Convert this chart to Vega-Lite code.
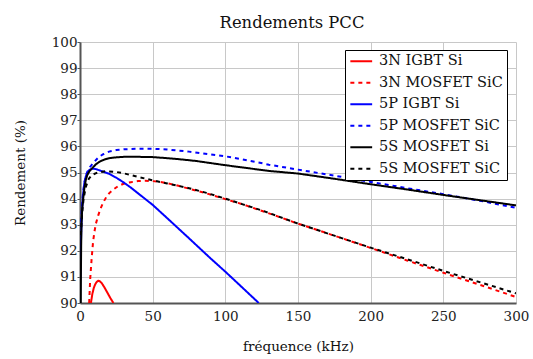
{
  "$schema": "https://vega.github.io/schema/vega-lite/v6.json",
  "width": 436,
  "height": 261,
  "autosize": {"type": "none"},
  "padding": {"left": 80, "top": 42, "right": 17, "bottom": 56},
  "background": "white",
  "title": {"text": "Rendements PCC", "font": "DejaVu Serif", "fontSize": 16.4, "fontWeight": "normal", "color": "#111", "offset": 4, "dx": -6},
  "config": {"view": {"stroke": null}, "font": "DejaVu Serif"},
  "datasets": {
    "curves": [
      {"series": "3N IGBT Si", "f": 7.5, "v": 90.0},
      {"series": "3N IGBT Si", "f": 8.5, "v": 90.35},
      {"series": "3N IGBT Si", "f": 9.5, "v": 90.58},
      {"series": "3N IGBT Si", "f": 10.5, "v": 90.72},
      {"series": "3N IGBT Si", "f": 11.5, "v": 90.81},
      {"series": "3N IGBT Si", "f": 12.5, "v": 90.85},
      {"series": "3N IGBT Si", "f": 13.5, "v": 90.84},
      {"series": "3N IGBT Si", "f": 15, "v": 90.76},
      {"series": "3N IGBT Si", "f": 17, "v": 90.58},
      {"series": "3N IGBT Si", "f": 19, "v": 90.38},
      {"series": "3N IGBT Si", "f": 21, "v": 90.18},
      {"series": "3N IGBT Si", "f": 23, "v": 90.0},

      {"series": "3N MOSFET SiC", "f": 6.3, "v": 90.0},
      {"series": "3N MOSFET SiC", "f": 7, "v": 90.9},
      {"series": "3N MOSFET SiC", "f": 8, "v": 91.7},
      {"series": "3N MOSFET SiC", "f": 9, "v": 92.35},
      {"series": "3N MOSFET SiC", "f": 10, "v": 92.75},
      {"series": "3N MOSFET SiC", "f": 11, "v": 93.05},
      {"series": "3N MOSFET SiC", "f": 12.5, "v": 93.35},
      {"series": "3N MOSFET SiC", "f": 14, "v": 93.6},
      {"series": "3N MOSFET SiC", "f": 16, "v": 93.85},
      {"series": "3N MOSFET SiC", "f": 18, "v": 94.05},
      {"series": "3N MOSFET SiC", "f": 20, "v": 94.2},
      {"series": "3N MOSFET SiC", "f": 23, "v": 94.35},
      {"series": "3N MOSFET SiC", "f": 26, "v": 94.47},
      {"series": "3N MOSFET SiC", "f": 30, "v": 94.57},
      {"series": "3N MOSFET SiC", "f": 35, "v": 94.63},
      {"series": "3N MOSFET SiC", "f": 40, "v": 94.67},
      {"series": "3N MOSFET SiC", "f": 45, "v": 94.68},
      {"series": "3N MOSFET SiC", "f": 50, "v": 94.67},
      {"series": "3N MOSFET SiC", "f": 55, "v": 94.64},
      {"series": "3N MOSFET SiC", "f": 65, "v": 94.53},
      {"series": "3N MOSFET SiC", "f": 75, "v": 94.38},
      {"series": "3N MOSFET SiC", "f": 87, "v": 94.2},
      {"series": "3N MOSFET SiC", "f": 100, "v": 93.98},
      {"series": "3N MOSFET SiC", "f": 112, "v": 93.78},
      {"series": "3N MOSFET SiC", "f": 124, "v": 93.55},
      {"series": "3N MOSFET SiC", "f": 137, "v": 93.3},
      {"series": "3N MOSFET SiC", "f": 150, "v": 93.04},
      {"series": "3N MOSFET SiC", "f": 175, "v": 92.58},
      {"series": "3N MOSFET SiC", "f": 200, "v": 92.11},
      {"series": "3N MOSFET SiC", "f": 225, "v": 91.63},
      {"series": "3N MOSFET SiC", "f": 250, "v": 91.16},
      {"series": "3N MOSFET SiC", "f": 275, "v": 90.7},
      {"series": "3N MOSFET SiC", "f": 300, "v": 90.23},

      {"series": "5P IGBT Si", "f": 0.1, "v": 90.9},
      {"series": "5P IGBT Si", "f": 0.5, "v": 92.0},
      {"series": "5P IGBT Si", "f": 1, "v": 93.0},
      {"series": "5P IGBT Si", "f": 1.5, "v": 93.65},
      {"series": "5P IGBT Si", "f": 2, "v": 94.1},
      {"series": "5P IGBT Si", "f": 3, "v": 94.6},
      {"series": "5P IGBT Si", "f": 4, "v": 94.85},
      {"series": "5P IGBT Si", "f": 5, "v": 95.0},
      {"series": "5P IGBT Si", "f": 6.5, "v": 95.1},
      {"series": "5P IGBT Si", "f": 8.5, "v": 95.15},
      {"series": "5P IGBT Si", "f": 11, "v": 95.13},
      {"series": "5P IGBT Si", "f": 13, "v": 95.09},
      {"series": "5P IGBT Si", "f": 15, "v": 95.05},
      {"series": "5P IGBT Si", "f": 20, "v": 94.95},
      {"series": "5P IGBT Si", "f": 25, "v": 94.8},
      {"series": "5P IGBT Si", "f": 30, "v": 94.62},
      {"series": "5P IGBT Si", "f": 35, "v": 94.42},
      {"series": "5P IGBT Si", "f": 40, "v": 94.2},
      {"series": "5P IGBT Si", "f": 50, "v": 93.76},
      {"series": "5P IGBT Si", "f": 60, "v": 93.25},
      {"series": "5P IGBT Si", "f": 75, "v": 92.48},
      {"series": "5P IGBT Si", "f": 90, "v": 91.7},
      {"series": "5P IGBT Si", "f": 100, "v": 91.2},
      {"series": "5P IGBT Si", "f": 110, "v": 90.68},
      {"series": "5P IGBT Si", "f": 123, "v": 90.0},

      {"series": "5P MOSFET SiC", "f": 0.7, "v": 93.1},
      {"series": "5P MOSFET SiC", "f": 1.2, "v": 93.55},
      {"series": "5P MOSFET SiC", "f": 2, "v": 94.15},
      {"series": "5P MOSFET SiC", "f": 3, "v": 94.6},
      {"series": "5P MOSFET SiC", "f": 4, "v": 94.88},
      {"series": "5P MOSFET SiC", "f": 5.3, "v": 95.05},
      {"series": "5P MOSFET SiC", "f": 7, "v": 95.22},
      {"series": "5P MOSFET SiC", "f": 10, "v": 95.42},
      {"series": "5P MOSFET SiC", "f": 13, "v": 95.6},
      {"series": "5P MOSFET SiC", "f": 16, "v": 95.7},
      {"series": "5P MOSFET SiC", "f": 20, "v": 95.8},
      {"series": "5P MOSFET SiC", "f": 25, "v": 95.86},
      {"series": "5P MOSFET SiC", "f": 30, "v": 95.89},
      {"series": "5P MOSFET SiC", "f": 40, "v": 95.91},
      {"series": "5P MOSFET SiC", "f": 50, "v": 95.91},
      {"series": "5P MOSFET SiC", "f": 60, "v": 95.88},
      {"series": "5P MOSFET SiC", "f": 75, "v": 95.8},
      {"series": "5P MOSFET SiC", "f": 100, "v": 95.62},
      {"series": "5P MOSFET SiC", "f": 115, "v": 95.47},
      {"series": "5P MOSFET SiC", "f": 130, "v": 95.3},
      {"series": "5P MOSFET SiC", "f": 150, "v": 95.11},
      {"series": "5P MOSFET SiC", "f": 175, "v": 94.88},
      {"series": "5P MOSFET SiC", "f": 200, "v": 94.64},
      {"series": "5P MOSFET SiC", "f": 225, "v": 94.4},
      {"series": "5P MOSFET SiC", "f": 250, "v": 94.17},
      {"series": "5P MOSFET SiC", "f": 275, "v": 93.92},
      {"series": "5P MOSFET SiC", "f": 300, "v": 93.65},

      {"series": "5S MOSFET Si", "f": 0.5, "v": 90.0},
      {"series": "5S MOSFET Si", "f": 0.65, "v": 91.2},
      {"series": "5S MOSFET Si", "f": 0.8, "v": 92.2},
      {"series": "5S MOSFET Si", "f": 1, "v": 93.0},
      {"series": "5S MOSFET Si", "f": 1.5, "v": 93.6},
      {"series": "5S MOSFET Si", "f": 2.3, "v": 94.05},
      {"series": "5S MOSFET Si", "f": 3, "v": 94.4},
      {"series": "5S MOSFET Si", "f": 4, "v": 94.72},
      {"series": "5S MOSFET Si", "f": 5, "v": 94.9},
      {"series": "5S MOSFET Si", "f": 6.5, "v": 95.05},
      {"series": "5S MOSFET Si", "f": 8, "v": 95.14},
      {"series": "5S MOSFET Si", "f": 11, "v": 95.32},
      {"series": "5S MOSFET Si", "f": 14, "v": 95.43},
      {"series": "5S MOSFET Si", "f": 17, "v": 95.5},
      {"series": "5S MOSFET Si", "f": 20, "v": 95.55},
      {"series": "5S MOSFET Si", "f": 25, "v": 95.58},
      {"series": "5S MOSFET Si", "f": 30, "v": 95.6},
      {"series": "5S MOSFET Si", "f": 40, "v": 95.6},
      {"series": "5S MOSFET Si", "f": 50, "v": 95.59},
      {"series": "5S MOSFET Si", "f": 60, "v": 95.55},
      {"series": "5S MOSFET Si", "f": 70, "v": 95.5},
      {"series": "5S MOSFET Si", "f": 80, "v": 95.44},
      {"series": "5S MOSFET Si", "f": 90, "v": 95.36},
      {"series": "5S MOSFET Si", "f": 100, "v": 95.28},
      {"series": "5S MOSFET Si", "f": 115, "v": 95.17},
      {"series": "5S MOSFET Si", "f": 130, "v": 95.06},
      {"series": "5S MOSFET Si", "f": 150, "v": 94.96},
      {"series": "5S MOSFET Si", "f": 175, "v": 94.76},
      {"series": "5S MOSFET Si", "f": 200, "v": 94.55},
      {"series": "5S MOSFET Si", "f": 225, "v": 94.35},
      {"series": "5S MOSFET Si", "f": 250, "v": 94.14},
      {"series": "5S MOSFET Si", "f": 275, "v": 93.94},
      {"series": "5S MOSFET Si", "f": 300, "v": 93.74},

      {"series": "5S MOSFET SiC", "f": 0.6, "v": 92.6},
      {"series": "5S MOSFET SiC", "f": 1, "v": 93.0},
      {"series": "5S MOSFET SiC", "f": 1.5, "v": 93.45},
      {"series": "5S MOSFET SiC", "f": 2.5, "v": 94.0},
      {"series": "5S MOSFET SiC", "f": 4, "v": 94.45},
      {"series": "5S MOSFET SiC", "f": 6, "v": 94.75},
      {"series": "5S MOSFET SiC", "f": 8, "v": 94.9},
      {"series": "5S MOSFET SiC", "f": 12, "v": 95.0},
      {"series": "5S MOSFET SiC", "f": 18, "v": 95.05},
      {"series": "5S MOSFET SiC", "f": 25, "v": 95.02},
      {"series": "5S MOSFET SiC", "f": 30, "v": 94.97},
      {"series": "5S MOSFET SiC", "f": 40, "v": 94.83},
      {"series": "5S MOSFET SiC", "f": 50, "v": 94.7},
      {"series": "5S MOSFET SiC", "f": 60, "v": 94.58},
      {"series": "5S MOSFET SiC", "f": 75, "v": 94.4},
      {"series": "5S MOSFET SiC", "f": 87, "v": 94.22},
      {"series": "5S MOSFET SiC", "f": 100, "v": 94.0},
      {"series": "5S MOSFET SiC", "f": 112, "v": 93.78},
      {"series": "5S MOSFET SiC", "f": 125, "v": 93.55},
      {"series": "5S MOSFET SiC", "f": 150, "v": 93.04},
      {"series": "5S MOSFET SiC", "f": 175, "v": 92.58},
      {"series": "5S MOSFET SiC", "f": 200, "v": 92.12},
      {"series": "5S MOSFET SiC", "f": 225, "v": 91.68},
      {"series": "5S MOSFET SiC", "f": 250, "v": 91.23},
      {"series": "5S MOSFET SiC", "f": 275, "v": 90.8},
      {"series": "5S MOSFET SiC", "f": 300, "v": 90.37}
    ]
  },
  "data": {"name": "curves"},
  "mark": {"type": "line", "strokeWidth": 2, "clip": true},
  "encoding": {
    "x": {
      "field": "f", "type": "quantitative",
      "scale": {"domain": [0, 300], "nice": false, "zero": false},
      "axis": {
        "title": "fréquence (kHz)", "values": [0, 50, 100, 150, 200, 250, 300],
        "titleFont": "DejaVu Serif", "titleFontSize": 13.5, "titleFontWeight": "normal", "titleColor": "#111", "titlePadding": 17,
        "labelFont": "DejaVu Serif", "labelFontSize": 13.5, "labelColor": "#222", "labelPadding": 6, "labelDx": 3,
        "tickSize": 0, "domainColor": "#555", "domainWidth": 2,
        "gridColor": "#c8c8c8", "gridWidth": 1, "labelFlush": false
      }
    },
    "y": {
      "field": "v", "type": "quantitative",
      "scale": {"domain": [90, 100], "nice": false, "zero": false},
      "axis": {
        "title": "Rendement (%)", "values": [90, 91, 92, 93, 94, 95, 96, 97, 98, 99, 100],
        "titleFont": "DejaVu Serif", "titleFontSize": 13.5, "titleFontWeight": "normal", "titleColor": "#111", "titlePadding": 24,
        "labelFont": "DejaVu Serif", "labelFontSize": 13.5, "labelColor": "#222", "labelPadding": 0,
        "tickSize": 3, "tickColor": "#555", "domainColor": "#555", "domainWidth": 2,
        "gridColor": "#c8c8c8", "gridWidth": 1, "labelFlush": false
      }
    },
    "color": {
      "field": "series", "type": "nominal",
      "scale": {
        "domain": ["3N IGBT Si", "3N MOSFET SiC", "5P IGBT Si", "5P MOSFET SiC", "5S MOSFET Si", "5S MOSFET SiC"],
        "range": ["#ff0000", "#ff0000", "#0000ff", "#0000ff", "#000000", "#000000"]
      },
      "legend": {
        "title": null, "orient": "none", "legendX": 265, "legendY": 8,
        "symbolType": "M-2.18,0H2.18", "symbolSize": 100, "symbolStrokeWidth": 2, "symbolOffset": 5,
        "labelFont": "DejaVu Serif", "labelFontSize": 14.5, "labelColor": "#111", "labelOffset": 10.5,
        "labelExpr": "datum.label + '\u2003\u2003'",
        "strokeColor": "black", "fillColor": "white", "padding": 4, "rowPadding": 6.5
      }
    },
    "strokeDash": {
      "field": "series", "type": "nominal",
      "scale": {
        "domain": ["3N IGBT Si", "3N MOSFET SiC", "5P IGBT Si", "5P MOSFET SiC", "5S MOSFET Si", "5S MOSFET SiC"],
        "range": [[1, 0], [4, 4], [1, 0], [4, 4], [1, 0], [4, 4]]
      }
    }
  }
}
